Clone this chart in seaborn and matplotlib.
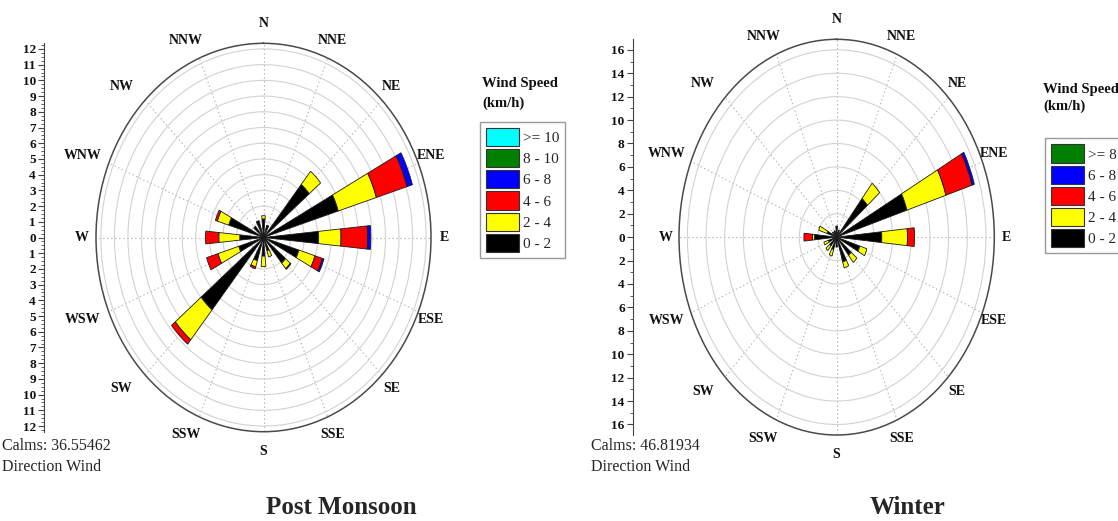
import numpy as np
import matplotlib
matplotlib.use("Agg")
import matplotlib.pyplot as plt
from matplotlib.patches import Patch
from matplotlib.ticker import MultipleLocator
import seaborn as sns

# 16 compass sectors, clockwise from north
directions = ["N", "NNE", "NE", "ENE", "E", "ESE", "SE", "SSE",
              "S", "SSW", "SW", "WSW", "W", "WNW", "NW", "NNW"]

# Post Monsoon: frequency (%) of each wind speed class (km/h) per sector
pm_classes = ["0 - 2", "2 - 4", "4 - 6", "6 - 8", "8 - 10", ">= 10"]
pm_0_2 = [1.18, 0.82, 4.38, 5.77, 4.07, 2.73, 2.11, 0.88,
          1.18, 1.55, 5.97, 1.91, 1.75, 2.68, 0.93, 1.13]
pm_2_4 = [0.21, 0.00, 1.08, 2.94, 1.65, 1.24, 0.46, 0.41,
          0.67, 0.41, 2.47, 1.60, 1.55, 0.88, 0.00, 0.00]
pm_4_6 = [0.00, 0.00, 0.00, 2.37, 1.96, 0.57, 0.00, 0.00,
          0.00, 0.12, 0.36, 0.88, 0.98, 0.15, 0.00, 0.00]
pm_6_8 = [0.00, 0.00, 0.00, 0.41, 0.24, 0.12, 0.00, 0.00,
          0.00, 0.00, 0.00, 0.00, 0.00, 0.00, 0.00, 0.00]
pm_8_10 = [0.00, 0.00, 0.00, 0.00, 0.00, 0.00, 0.06, 0.00,
           0.00, 0.00, 0.00, 0.00, 0.00, 0.00, 0.00, 0.00]
pm_ge10 = [0.00, 0.00, 0.00, 0.00, 0.00, 0.00, 0.00, 0.00,
           0.00, 0.00, 0.00, 0.00, 0.00, 0.00, 0.00, 0.00]
pm_calms = "36.55462"

# Winter
w_classes = ["0 - 2", "2 - 4", "4 - 6", "6 - 8", ">= 8"]
w_0_2 = [0.95, 0.63, 4.28, 7.88, 4.84, 2.59, 2.01, 2.22,
         0.85, 1.11, 0.95, 0.90, 2.38, 1.06, 0.58, 0.58]
w_2_4 = [0.00, 0.00, 1.69, 4.37, 2.75, 0.79, 0.79, 0.53,
         0.00, 0.58, 0.53, 0.53, 0.21, 0.95, 0.00, 0.00]
w_4_6 = [0.00, 0.00, 0.00, 2.93, 0.76, 0.00, 0.00, 0.00,
         0.00, 0.00, 0.00, 0.00, 0.92, 0.00, 0.00, 0.00]
w_6_8 = [0.00, 0.00, 0.00, 0.26, 0.00, 0.00, 0.00, 0.00,
         0.00, 0.00, 0.00, 0.00, 0.00, 0.00, 0.00, 0.00]
w_ge8 = [0.00, 0.00, 0.00, 0.00, 0.00, 0.00, 0.00, 0.00,
         0.00, 0.00, 0.00, 0.00, 0.00, 0.00, 0.00, 0.00]
w_calms = "46.81934"

sns.set_theme(style="white")
plt.rcParams["font.family"] = ["Liberation Serif", "DejaVu Serif"]

pm_colors = sns.color_palette(["#000000", "#ffff00", "#ff0000", "#0000ff", "#008000", "#00ffff"])
w_colors = sns.color_palette(["#000000", "#ffff00", "#ff0000", "#0000ff", "#008000"])

W_PX, H_PX = 1118, 521
fig = plt.figure(figsize=(W_PX / 100, H_PX / 100), dpi=100)
fig.patch.set_facecolor("white")


def fx(px):
    return px / W_PX


def fy(py):
    return 1 - py / H_PX


def draw_rose(rect, scale_x, rmax, ring_step, label_step, minor_step, series, colors):
    ax = fig.add_axes(rect, projection="polar")
    ax.set_aspect("auto")
    ax.set_theta_zero_location("N")
    ax.set_theta_direction(-1)
    ax.set_ylim(0, rmax)

    theta = np.deg2rad(np.arange(len(directions)) * 22.5)
    width = np.deg2rad(11)
    base = np.zeros(len(directions))
    for vals, col in zip(series, colors):
        vals = np.asarray(vals, dtype=float)
        keep = vals > 0
        if keep.any():
            ax.bar(theta[keep], vals[keep], width=width, bottom=base[keep],
                   color=col, edgecolor="#1a1a1a", linewidth=0.6, zorder=3)
        base += vals

    ax.set_xticks(theta)
    ax.set_xticklabels([])
    ax.set_xticks(theta + np.deg2rad(11.25), minor=True)
    ax.set_yticks(np.arange(ring_step, rmax, ring_step))
    ax.set_yticklabels([])
    ax.xaxis.grid(True, which="major", linestyle=(0, (1.2, 2.4)),
                  color="#b0b0b0", linewidth=0.8)
    ax.yaxis.grid(True, color="#d2d2d2", linewidth=0.8)
    ax.tick_params(axis="x", which="major", direction="in", length=4.5,
                   width=0.8, color="#555555")
    ax.tick_params(axis="x", which="minor", direction="in", length=2.5,
                   width=0.7, color="#555555")
    ax.tick_params(axis="y", length=0)
    ax.spines["polar"].set_color("#4a4a4a")
    ax.spines["polar"].set_linewidth(1.1)
    ax.set_axisbelow(True)

    # compass point names around the rim
    for name, ang in zip(directions, theta):
        s, c = np.sin(ang), np.cos(ang)
        kx = 1.08 if s > -1e-6 else 1.085 + 0.135 * np.sqrt(abs(c))
        ax.text(0.5 + 0.5 * kx * s, 0.5 + 0.5 * 1.10 * c, name,
                transform=ax.transAxes, ha="center", va="center",
                fontsize=10, fontweight="bold", color="#111111", clip_on=False)

    # vertical frequency scale on the left
    sax = fig.add_axes([scale_x, rect[1], 0.0005, rect[3]])
    sax.set_ylim(-rmax, rmax)
    sax.patch.set_visible(False)
    for side in ["top", "right", "bottom"]:
        sax.spines[side].set_visible(False)
    sax.spines["left"].set_color("#444444")
    sax.spines["left"].set_linewidth(0.8)
    sax.set_xticks([])
    top = int(np.floor(rmax / label_step) * label_step)
    ticks = np.arange(-top, top + label_step, label_step)
    sax.set_yticks(ticks)
    sax.set_yticklabels([str(abs(int(t))) for t in ticks],
                        fontsize=9.5, fontweight="bold", color="#111111")
    sax.yaxis.set_minor_locator(MultipleLocator(minor_step))
    sax.tick_params(axis="y", which="major", left=True, direction="out",
                    length=4, width=0.8, color="#444444", pad=2)
    sax.tick_params(axis="y", which="minor", left=True, direction="out",
                    length=2, width=0.6, color="#444444")
    return ax


def speed_legend(classes, colors, anchor, title_x, title_y1, title_y2):
    handles = [Patch(facecolor=c, edgecolor="#333333", linewidth=0.8, label=l)
               for l, c in zip(classes[::-1], list(colors)[::-1])]
    leg = fig.legend(handles=handles, loc="upper left", bbox_to_anchor=anchor,
                     frameon=True, fancybox=False, edgecolor="#9a9a9a",
                     framealpha=1, fontsize=11, handlelength=2.16,
                     handleheight=1.45, handletextpad=0.25, labelspacing=0.2,
                     borderpad=0.4, borderaxespad=0)
    leg.get_frame().set_linewidth(1.0)
    fig.text(title_x, title_y1, "Wind Speed", ha="left", va="center",
             fontsize=10.5, fontweight="bold", color="#111111")
    fig.text(title_x, title_y2, "(km/h)", ha="left", va="center",
             fontsize=10.5, fontweight="bold", color="#111111")


# Post Monsoon rose
draw_rose([fx(96), fy(431.7), fx(335), 388.4 / H_PX], fx(44.3),
          rmax=12.36, ring_step=1, label_step=1, minor_step=0.25,
          series=[pm_0_2, pm_2_4, pm_4_6, pm_6_8, pm_8_10, pm_ge10],
          colors=pm_colors)
speed_legend(pm_classes, pm_colors, (fx(480), fy(121.7)), fx(482), fy(83), fy(103))
fig.text(fx(2), fy(446), f"Calms: {pm_calms}", ha="left", va="center", fontsize=11.5)
fig.text(fx(2), fy(467), "Direction Wind", ha="left", va="center", fontsize=11.5)
fig.text(fx(341.5), fy(508), "Post Monsoon", ha="center", va="center",
         fontsize=18, fontweight="bold")

# Winter rose
draw_rose([fx(679), fy(435), fx(315.3), 395.7 / H_PX], fx(633),
          rmax=16.9, ring_step=2, label_step=2, minor_step=1,
          series=[w_0_2, w_2_4, w_4_6, w_6_8, w_ge8],
          colors=w_colors)
speed_legend(w_classes, w_colors, (fx(1045), fy(138.3)), fx(1043), fy(90), fy(106))
fig.text(fx(591), fy(446), f"Calms: {w_calms}", ha="left", va="center", fontsize=11.5)
fig.text(fx(591), fy(467), "Direction Wind", ha="left", va="center", fontsize=11.5)
fig.text(fx(908), fy(508), "Winter", ha="center", va="center",
         fontsize=18, fontweight="bold")

fig.savefig("out.png", dpi=100, facecolor="white")
